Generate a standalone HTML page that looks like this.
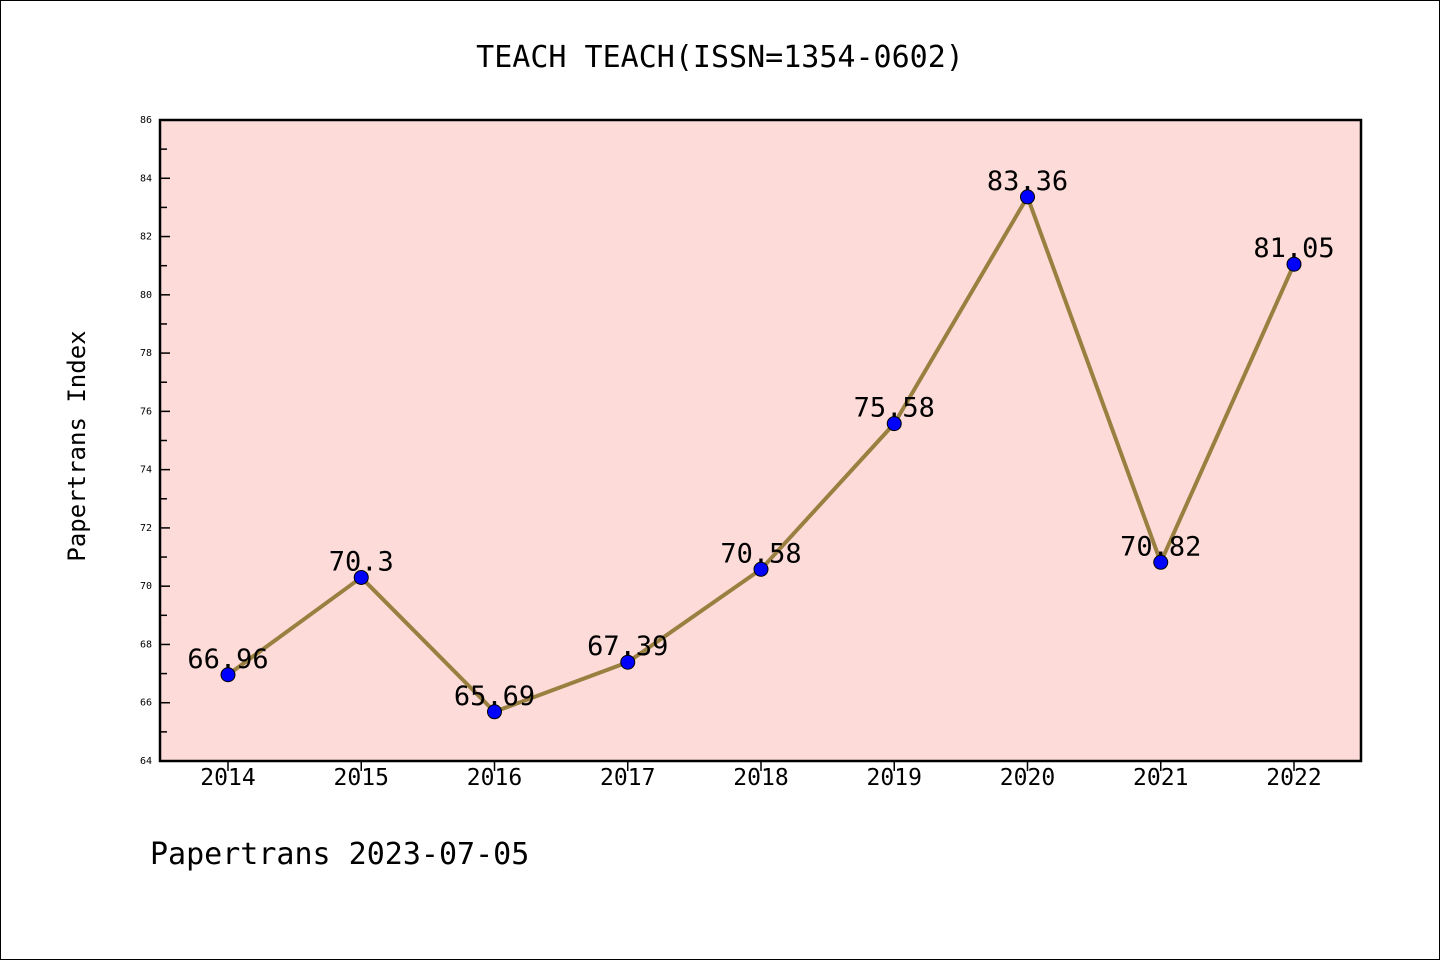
<!DOCTYPE html>
<html><head><meta charset="utf-8"><style>
body{margin:0;background:#fff}
svg{display:block}
text{font-family:"WenQuanYi Zen Hei Mono","WenQuanYi Zen Hei","DejaVu Sans Mono",monospace;fill:#000}
</style></head><body>
<svg id="chart" width="1440" height="960" xmlns="http://www.w3.org/2000/svg">
<rect x="0.5" y="0.5" width="1439" height="959" fill="#fff" stroke="#000"/>
<text x="720" y="67" text-anchor="middle" font-size="30">TEACH TEACH(ISSN=1354-0602)</text>
<rect x="160" y="120" width="1201" height="641" fill="#fddbd8"/>
<g id="axes"></g>
<g id="series"></g>
<rect x="160" y="120" width="1201" height="641" fill="none" stroke="#000" stroke-width="2.5"/>
<text transform="translate(85,446) rotate(-90)" text-anchor="middle" font-size="24">Papertrans Index</text>
<text x="150" y="864" font-size="30">Papertrans 2023-07-05</text>
</svg>
<script>
const years=["2014","2015","2016","2017","2018","2019","2020","2021","2022"];
const values=[66.96,70.3,65.69,67.39,70.58,75.58,83.36,70.82,81.05];
const valueLabels=["66.96","70.3","65.69","67.39","70.58","75.58","83.36","70.82","81.05"];
const yTicks=[64,66,68,70,72,74,76,78,80,82,84,86];
const NS="http://www.w3.org/2000/svg";
const yMin=64,yMax=86,plotTop=120,plotBottom=761;
function yPos(v){return plotBottom-(v-yMin)/(yMax-yMin)*(plotBottom-plotTop);}
function xPos(i){return 228+i*(1294-228)/(years.length-1);}
function mk(t,a,p){const e=document.createElementNS(NS,t);for(const k in a)e.setAttribute(k,a[k]);p.appendChild(e);return e;}
const ax=document.getElementById('axes'),se=document.getElementById('series');
yTicks.forEach((v,i)=>{
 const t=mk('line',{x1:160,x2:170,y1:yPos(v),y2:yPos(v),stroke:'#000','stroke-width':1.5},ax);
 
 
 const l=mk('text',{x:152,y:yPos(v)+3,'text-anchor':'end','font-size':10},ax);
 l.textContent=v;
 
 
 if(i<yTicks.length-1){
  const m=mk('line',{x1:160,x2:167,y1:yPos(v+1),y2:yPos(v+1),stroke:'#000','stroke-width':1.5},ax);
  
  
 }
});
years.forEach((yr,i)=>{
 const t=mk('line',{x1:xPos(i),x2:xPos(i),y1:761,y2:771,stroke:'#000','stroke-width':1.5},ax);
 
 
 const l=mk('text',{x:xPos(i),y:785,'text-anchor':'middle','font-size':23},ax);
 l.textContent=yr;
 
 
});
const pl=mk('polyline',{points:values.map((v,i)=>xPos(i)+','+yPos(v)).join(' '),fill:'none',stroke:'#9a8040','stroke-width':4,'stroke-linejoin':'round'},se);


values.forEach((v,i)=>{
 const c=mk('circle',{cx:xPos(i),cy:yPos(v),r:7,fill:'#0000ff',stroke:'#000','stroke-width':1},se);
 
 
 const l=mk('text',{x:xPos(i),y:yPos(v)-7,'text-anchor':'middle','font-size':27},se);
 l.textContent=valueLabels[i];
 
 
});
</script>
</body></html>
